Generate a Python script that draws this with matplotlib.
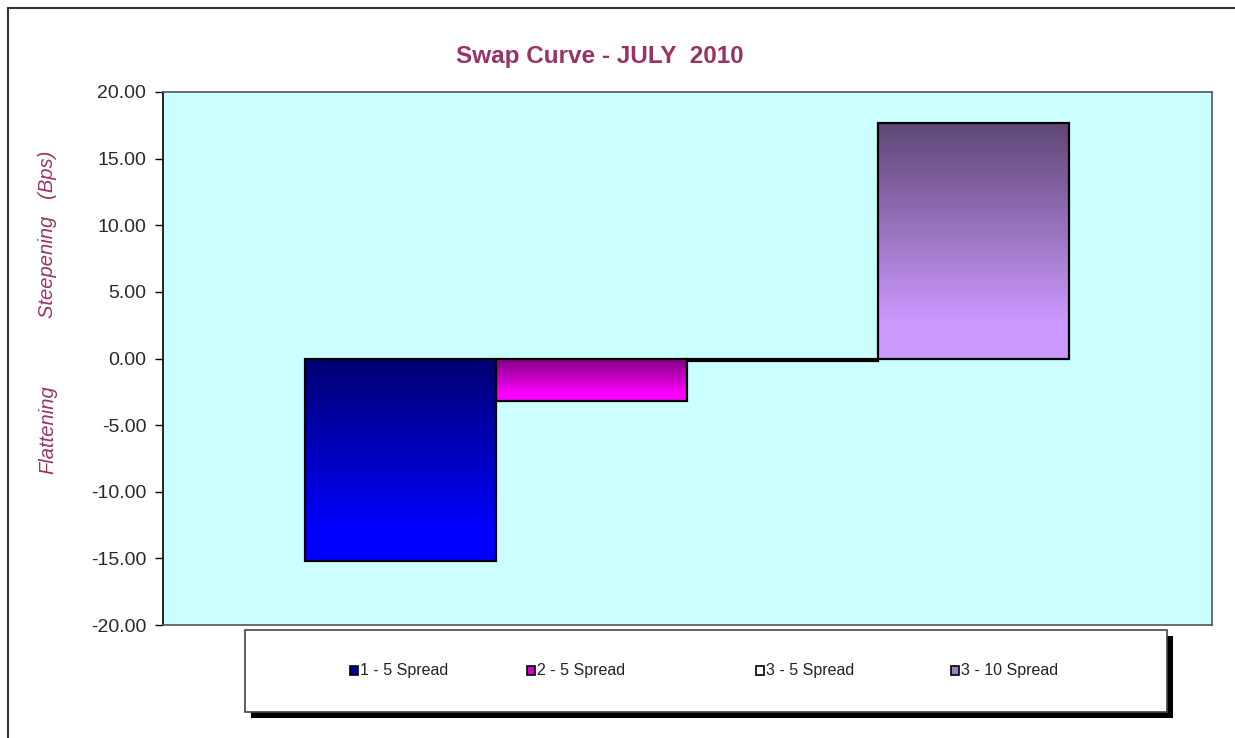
import numpy as np
import matplotlib
matplotlib.use("Agg")
import matplotlib.pyplot as plt
from matplotlib.colors import LinearSegmentedColormap
from matplotlib.patches import Rectangle
from matplotlib.lines import Line2D
from matplotlib.ticker import FuncFormatter

plt.rcParams['font.family'] = ['Liberation Sans', 'DejaVu Sans']

# data
series = ['1 - 5 Spread', '2 - 5 Spread', '3 - 5 Spread', '3 - 10 Spread']
values = [-15.2, -3.2, -0.2, 17.7]
# gradient (top colour, bottom colour) for each series
grad_top = ['#000070', '#800080', '#b0b0a0', '#5e4775']
grad_bottom = ['#0000ff', '#ff00ff', '#e8e8dc', '#cc99ff']
legend_face = ['#000099', '#cc00cc', '#ffffff', '#9c82c0']
yticks = [-20, -15, -10, -5, 0, 5, 10, 15, 20]

title_col = '#993366'

fig = plt.figure(figsize=(12.35, 7.38), dpi=100)
ax = fig.add_axes([163 / 1235, 1 - 625 / 738, (1212 - 163) / 1235, (625 - 92) / 738])
ax.set_facecolor('#ccffff')

x = np.arange(len(values))
bars = ax.bar(x, values, width=1.0, color='none', edgecolor='black', linewidth=1.6, zorder=3)

for b, c0, c1 in zip(bars, grad_top, grad_bottom):
    x0, y0 = b.get_x(), min(b.get_y(), b.get_y() + b.get_height())
    x1, y1 = x0 + b.get_width(), max(b.get_y(), b.get_y() + b.get_height())
    cmap = LinearSegmentedColormap.from_list('g', [(0, c0), (0.85, c1), (1, c1)])
    grad = np.linspace(0, 1, 256).reshape(-1, 1)
    ax.imshow(grad, cmap=cmap, extent=[x0, x1, y0, y1], aspect='auto',
              origin='upper', zorder=2, interpolation='bilinear')

ax.set_xlim(-1.242, 4.248)
ax.set_ylim(-20, 20)
ax.set_yticks(yticks)
ax.yaxis.set_major_formatter(FuncFormatter(lambda v, p: '{:.2f}'.format(v)))
ax.tick_params(axis='y', direction='out', length=6, width=1, labelsize=14,
               labelcolor='#2a2a2a', pad=6)
ax.set_xticks([])
for s in ['top', 'right', 'bottom']:
    ax.spines[s].set_color('#555555')
    ax.spines[s].set_linewidth(1.2)
ax.spines['left'].set_color('black')
ax.spines['left'].set_linewidth(1.2)

# title and axis captions
fig.text(600 / 1235, 1 - 57 / 738, 'Swap Curve - JULY  2010', ha='center', va='center',
         fontsize=17.5, fontweight='bold', color=title_col)
fig.text(48 / 1235, 1 - 234 / 738, 'Steepening   (Bps)', rotation=90, ha='center', va='center',
         fontsize=14.5, style='italic', color=title_col)
fig.text(48 / 1235, 1 - 430 / 738, 'Flattening', rotation=90, ha='center', va='center',
         fontsize=14.5, style='italic', color=title_col)

# outer chart frame
fig.add_artist(Line2D([8 / 1235, 8 / 1235], [0, 1 - 8 / 738], color='#333333', lw=1.5))
fig.add_artist(Line2D([8 / 1235, 1], [1 - 8 / 738, 1 - 8 / 738], color='#333333', lw=1.5))

# legend box with shadow
W, H = 1235, 738
lx0, ly0, lx1, ly1 = 245, 630, 1167, 712
fig.add_artist(Rectangle(((lx0 + 6) / W, 1 - (ly1 + 6) / H), (lx1 - lx0) / W, (ly1 - ly0) / H,
                         transform=fig.transFigure, facecolor='black', edgecolor='none'))
fig.add_artist(Rectangle((lx0 / W, 1 - ly1 / H), (lx1 - lx0) / W, (ly1 - ly0) / H,
                         transform=fig.transFigure, facecolor='white', edgecolor='#444444', lw=1.2))
entry_x = [350, 527, 756, 951]
for ex, name, fc in zip(entry_x, series, legend_face):
    fig.add_artist(Rectangle((ex / W, 1 - 675 / H), 8 / W, 9 / H, transform=fig.transFigure,
                             facecolor=fc, edgecolor='black', lw=1.2))
    fig.text((ex + 10) / W, 1 - 670 / H, name, ha='left', va='center', fontsize=11.5,
             color='#222222')

fig.savefig('out.png', dpi=100)
